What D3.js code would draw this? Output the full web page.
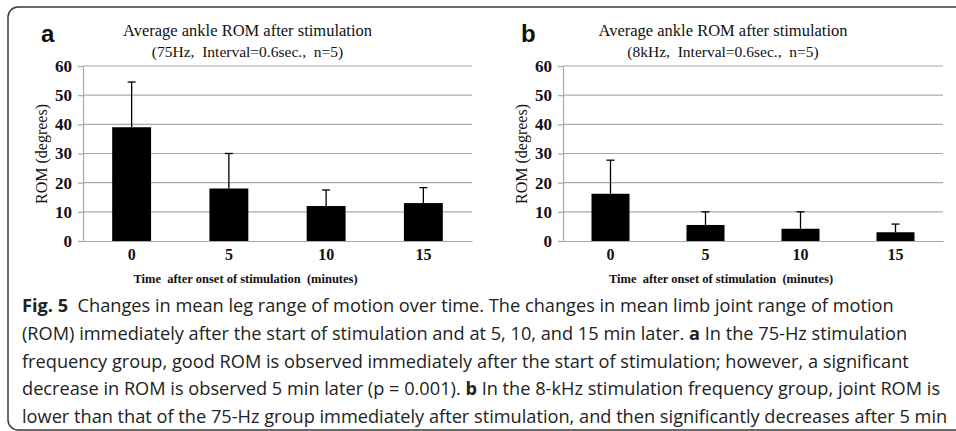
<!DOCTYPE html>
<html>
<head>
<meta charset="utf-8">
<script src="https://cdn.jsdelivr.net/npm/d3@7"></script>
<style>
  html, body { margin: 0; padding: 0; background: #fff; }
  svg { display: block; }
</style>
</head>
<body>
<div id="figure"></div>
<script>
// Data
const timePoints = ["0", "5", "10", "15"];
const romA = [39, 18, 12, 13];          // 75 Hz group, mean ROM (degrees)
const sdA = [15.5, 12, 5.5, 5.3];       // upper error bar length
const romB = [16.2, 5.5, 4.2, 3];       // 8 kHz group
const sdB = [11.5, 4.5, 5.8, 2.8];
const yTicks = [0, 10, 20, 30, 40, 50, 60];

const panelLetters = ["a", "b"];
const titleLine1 = "Average ankle ROM after stimulation";
const titleLine2 = ["(75Hz,  Interval=0.6sec.,  n=5)", "(8kHz,  Interval=0.6sec.,  n=5)"];
const yLabel = "ROM (degrees)";
const xLabel = "Time  after onset of stimulation  (minutes)";

// caption lines, each as [text, bold] segments
const captionLines = [
  [["Fig. 5", true], ["  Changes in mean leg range of motion over time. The changes in mean limb joint range of motion", false]],
  [["(ROM) immediately after the start of stimulation and at 5, 10, and 15 min later. ", false], ["a", true], [" In the 75-Hz stimulation", false]],
  [["frequency group, good ROM is observed immediately after the start of stimulation; however, a significant", false]],
  [["decrease in ROM is observed 5 min later (p = 0.001). ", false], ["b", true], [" In the 8-kHz stimulation frequency group, joint ROM is", false]],
  [["lower than that of the 75-Hz group immediately after stimulation, and then significantly decreases after 5 min", false]]
];

// 1. variables
const width = 956;
const height = 431;
const serif = "'Liberation Serif', 'Times New Roman', serif";
const sans = "'Liberation Sans', Arial, sans-serif";
const gridColor = "#a8a8a8";

const panels = [
  { letter: panelLetters[0], sub: titleLine2[0], values: romA, sd: sdA, left: 83, right: 472 },
  { letter: panelLetters[1], sub: titleLine2[1], values: romB, sd: sdB, left: 563, right: 943 }
];
const plotTop = 66;
const plotBottom = 241;

const svg = d3.select("#figure")
  .append("svg")
  .attr("width", width)
  .attr("height", height);

// frame
svg.append("rect")
  .attr("x", 8).attr("y", 7)
  .attr("width", 1000).attr("height", 423)
  .attr("rx", 10).attr("ry", 10)
  .attr("fill", "none")
  .attr("stroke", "#3a3a3a")
  .attr("stroke-width", 1.5);

// 2. Functions
function drawPanel(p) {
  const g = svg.append("g");
  const areaCenter = (p.left - 60 + p.right) / 2;

  const y = d3.scaleLinear().domain([0, 60]).range([plotBottom, plotTop]);
  const x = d3.scaleBand()
    .domain(timePoints)
    .range([p.left, p.right])
    .paddingInner(0.6)
    .paddingOuter(0.3);

  // gridlines
  g.selectAll(".grid")
    .data(yTicks.slice(1))
    .enter()
    .append("line")
    .attr("x1", p.left).attr("x2", p.right)
    .attr("y1", d => y(d)).attr("y2", d => y(d))
    .attr("stroke", gridColor)
    .attr("stroke-width", 1.2);

  // y axis
  const yAxis = g.append("g")
    .attr("transform", `translate(${p.left},0)`)
    .call(d3.axisLeft(y).tickValues(yTicks).tickSize(5).tickSizeOuter(0).tickPadding(6));
  yAxis.select(".domain").attr("stroke", gridColor).attr("stroke-width", 1.2);
  yAxis.selectAll(".tick line").attr("stroke", gridColor).attr("stroke-width", 1.2);
  yAxis.selectAll(".tick text")
    .attr("fill", "#111")
    .style("font-family", serif)
    .style("font-weight", "bold")
    .style("font-size", "17px");

  // x axis
  const xAxis = g.append("g")
    .attr("transform", `translate(0,${plotBottom})`)
    .call(d3.axisBottom(x).tickSize(0).tickPadding(8));
  xAxis.select(".domain").attr("stroke", gridColor).attr("stroke-width", 1.2);
  xAxis.selectAll(".tick text")
    .attr("fill", "#111")
    .style("font-family", serif)
    .style("font-weight", "bold")
    .style("font-size", "16px");

  // bars
  g.selectAll(".bar")
    .data(p.values)
    .enter()
    .append("rect")
    .attr("x", (d, i) => x(timePoints[i]))
    .attr("y", d => y(d))
    .attr("width", x.bandwidth())
    .attr("height", d => y(0) - y(d))
    .attr("fill", "#000");

  // error bars (upper only)
  const errs = g.selectAll(".err")
    .data(p.values.map((v, i) => ({ key: timePoints[i], v: v, top: v + p.sd[i] })))
    .enter()
    .append("g");
  errs.append("line")
    .attr("x1", d => x(d.key) + x.bandwidth() / 2)
    .attr("x2", d => x(d.key) + x.bandwidth() / 2)
    .attr("y1", d => y(d.v))
    .attr("y2", d => y(d.top))
    .attr("stroke", "#000").attr("stroke-width", 1.3);
  errs.append("line")
    .attr("x1", d => x(d.key) + x.bandwidth() / 2 - 4)
    .attr("x2", d => x(d.key) + x.bandwidth() / 2 + 4)
    .attr("y1", d => y(d.top))
    .attr("y2", d => y(d.top))
    .attr("stroke", "#000").attr("stroke-width", 1.3);

  // titles
  g.append("text")
    .attr("x", areaCenter).attr("y", 36)
    .attr("text-anchor", "middle")
    .style("font-family", serif).style("font-size", "16.5px").attr("fill", "#111")
    .text(titleLine1);
  g.append("text")
    .attr("x", areaCenter).attr("y", 57)
    .attr("text-anchor", "middle")
    .style("font-family", serif).style("font-size", "15.5px").attr("fill", "#111")
    .style("white-space", "pre")
    .text(p.sub);

  // panel letter
  g.append("text")
    .attr("x", p.left - 42).attr("y", 42)
    .style("font-family", sans).style("font-weight", "bold").style("font-size", "24px")
    .attr("fill", "#111")
    .text(p.letter);

  // y label
  g.append("text")
    .attr("transform", `translate(${p.left - 36},154) rotate(-90)`)
    .attr("text-anchor", "middle")
    .style("font-family", serif).style("font-size", "16px").attr("fill", "#111")
    .text(yLabel);

  // x label
  g.append("text")
    .attr("x", areaCenter - 2).attr("y", 283)
    .attr("text-anchor", "middle")
    .style("font-family", serif).style("font-weight", "bold").style("font-size", "12.5px")
    .attr("fill", "#111")
    .style("white-space", "pre")
    .text(xLabel);
}

function drawCaption() {
  const cap = svg.append("g");
  const lines = cap.selectAll(".cap-line")
    .data(captionLines)
    .enter()
    .append("text")
    .attr("x", 22)
    .attr("y", (d, i) => 312 + i * 27.8)
    .style("font-family", "'Open Sans', 'Noto Sans', sans-serif")
    .style("font-size", "16px")
    .style("white-space", "pre")
    .attr("fill", "#222");
  lines.selectAll("tspan")
    .data(d => d)
    .enter()
    .append("tspan")
    .style("font-weight", d => d[1] ? "bold" : "normal")
    .text(d => d[0]);

  // fit the font size so the longest line ends near the right edge
  const w = d3.max(lines.nodes(), n => n.getComputedTextLength());
  const size = 16 * 926 / w;
  lines.style("font-size", size + "px");
}

// 3. Render
panels.forEach(drawPanel);
drawCaption();
</script>
</body>
</html>
